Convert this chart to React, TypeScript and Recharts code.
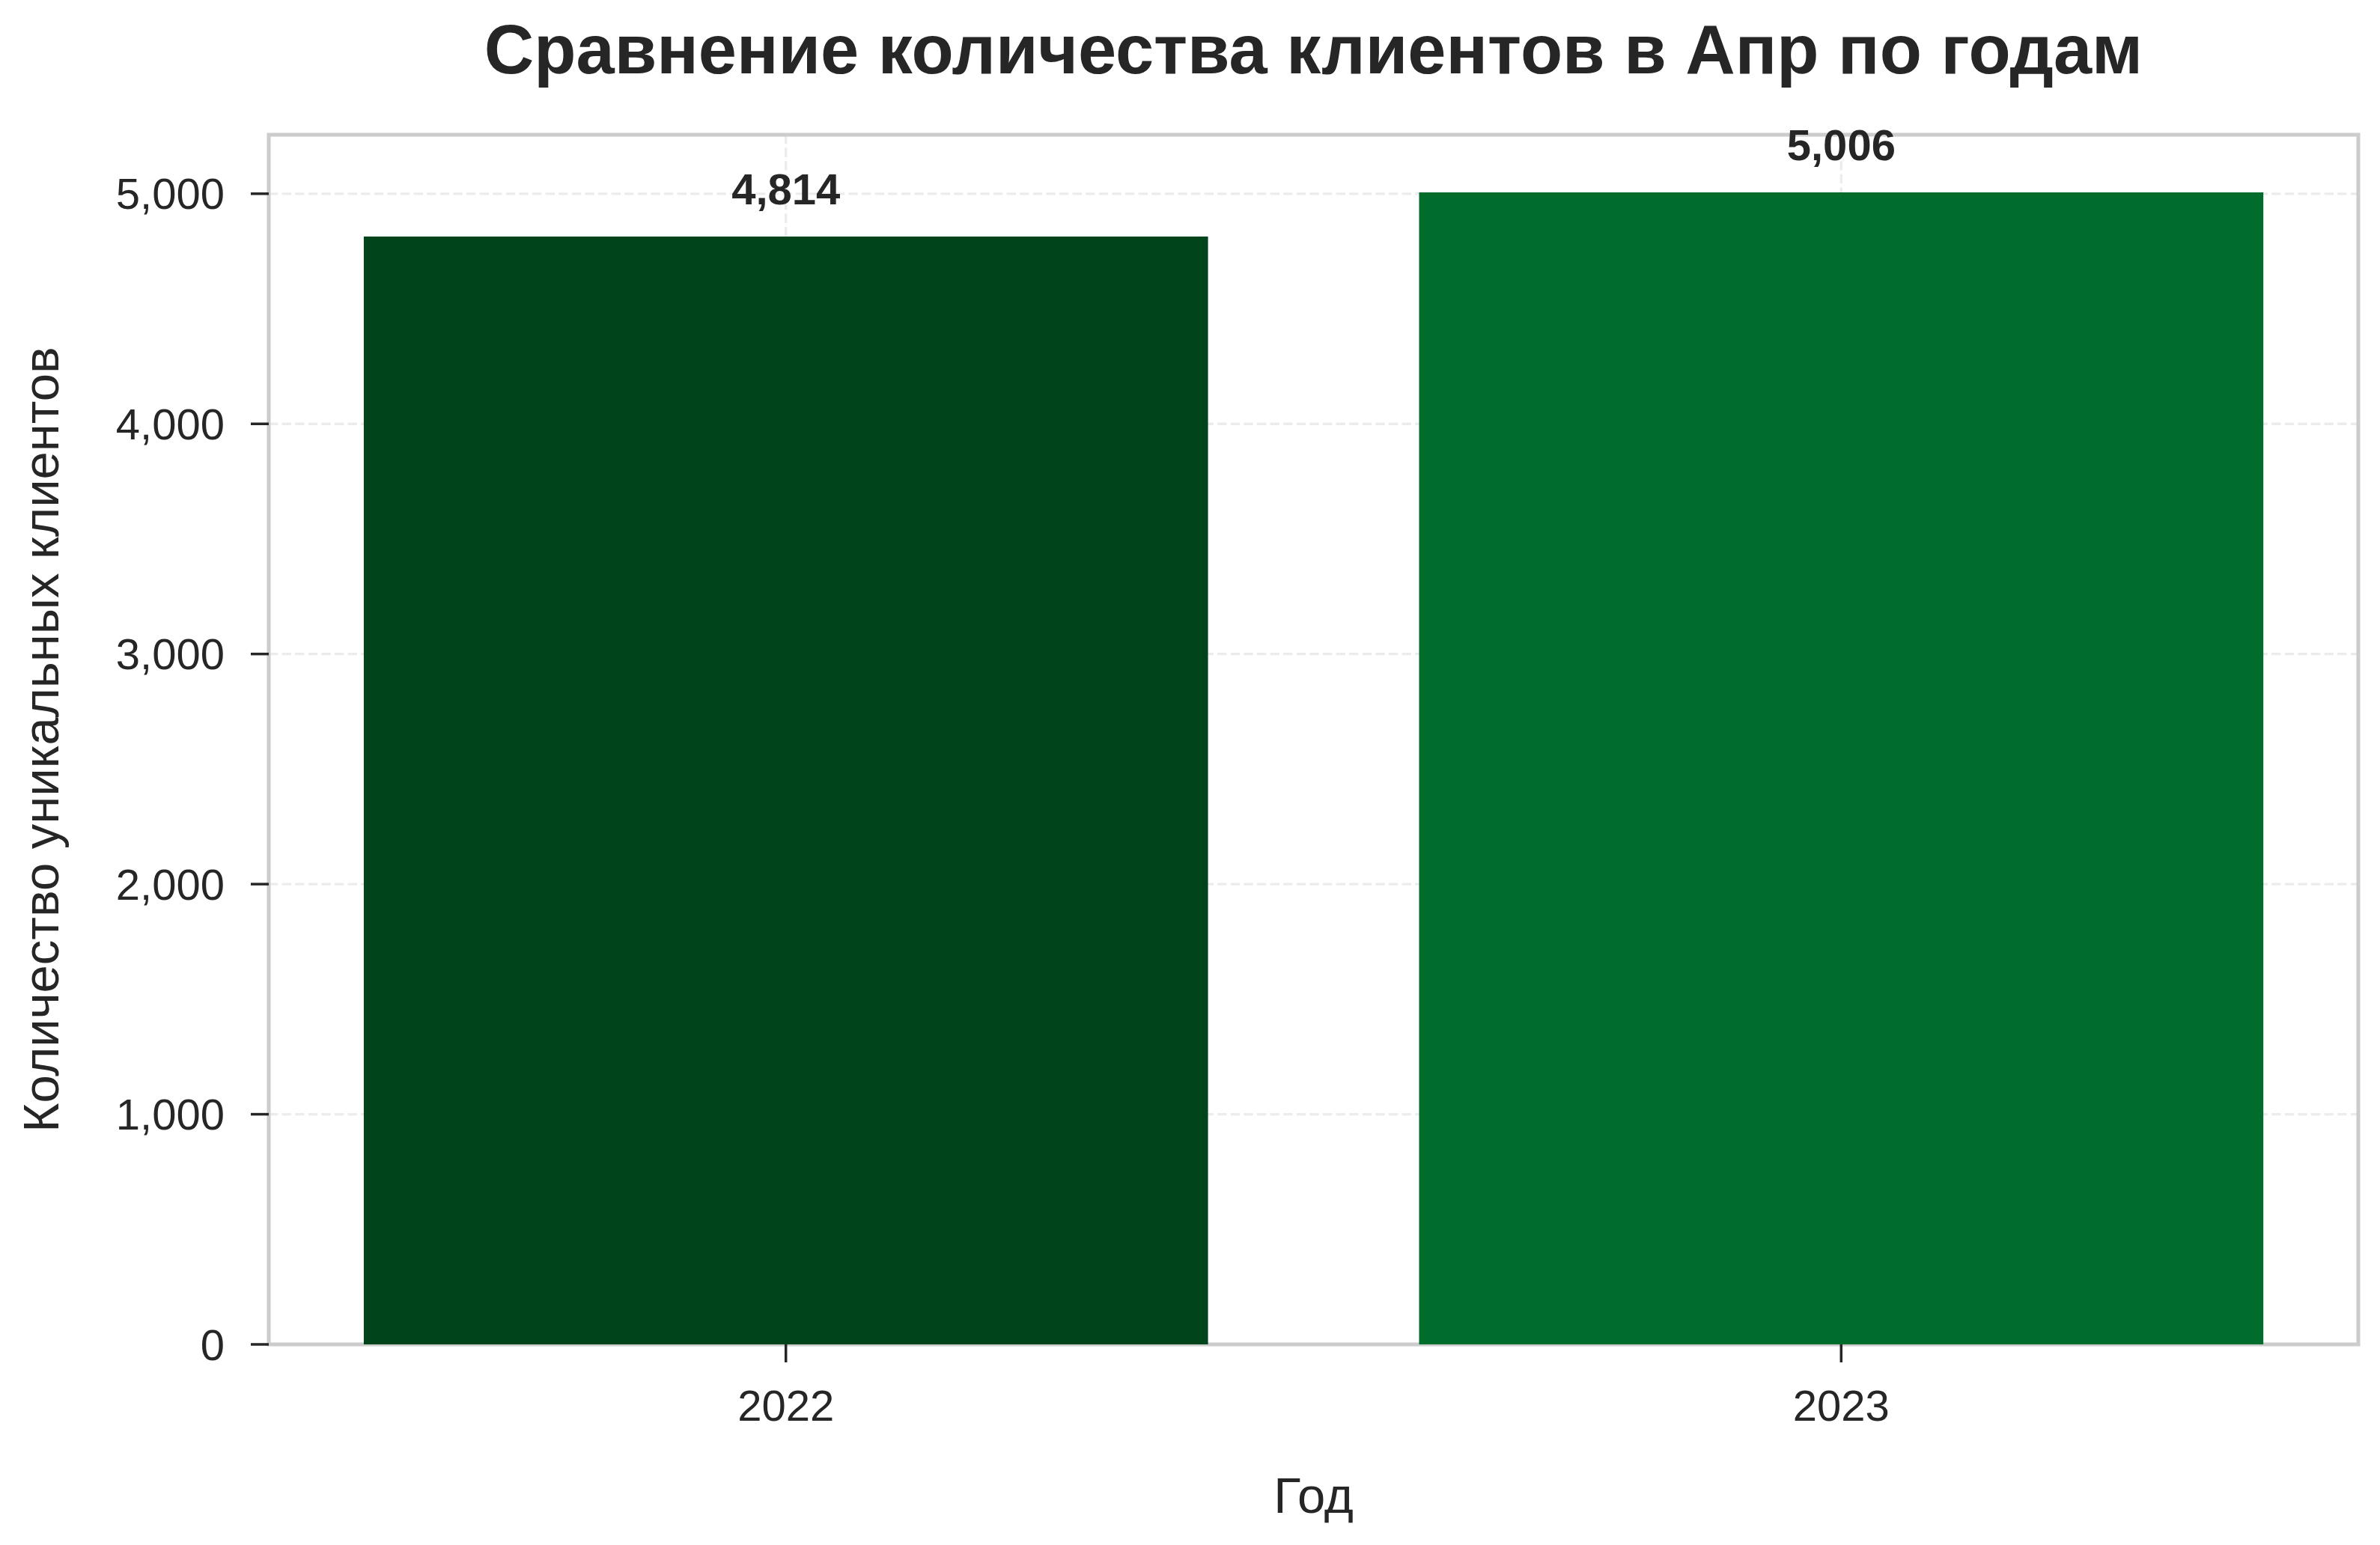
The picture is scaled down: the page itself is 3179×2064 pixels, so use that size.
import React from 'react';
import {
  BarChart,
  Bar,
  Cell,
  XAxis,
  YAxis,
  CartesianGrid,
  LabelList,
  Label,
  ReferenceArea,
} from 'recharts';

// values
const years = ['2022', '2023'];
const customers = [4814, 5006];
const barColors = ['#00441b', '#006d2c'];
const yTicks = [0, 1000, 2000, 3000, 4000, 5000];

const TITLE = 'Сравнение количества клиентов в Апр по годам';
const X_LABEL = 'Год';
const Y_LABEL = 'Количество уникальных клиентов';

const W = 3179;
const H = 2064;
const FONT = '"Liberation Sans", Arial, sans-serif';
const TEXT = '#262626';

// matplotlib style auto margins (5%)
const X_DOMAIN: [number, number] = [-0.49, 1.49];
const Y_MAX = Math.max(...customers) * 1.05;

const margin = { top: 180, right: 29, bottom: 0, left: 0 };
const Y_AXIS_W = 359;
const X_AXIS_H = 268;
const plotW = W - margin.left - margin.right - Y_AXIS_W;
const barSize = (0.8 * plotW) / (X_DOMAIN[1] - X_DOMAIN[0]);

const data = years.map((year, i) => ({ idx: i, year, customers: customers[i] }));

const fmt = (v: number) => Number(v).toLocaleString('en-US');

const App: React.FC = () => {
  return (
    <div style={{ position: 'absolute', left: 0, top: 0, width: W, height: H, background: '#fff' }}>
      <svg width={W} height={130} style={{ position: 'absolute', left: 0, top: 0 }}>
        <text
          x={Y_AXIS_W + plotW / 2}
          y={98}
          textAnchor="middle"
          fontFamily={FONT}
          fontWeight="bold"
          fontSize={92}
          fill={TEXT}
        >
          {TITLE}
        </text>
      </svg>
      <BarChart width={W} height={H} data={data} margin={margin}>
        <CartesianGrid stroke="#ececec" strokeWidth={3.3} strokeDasharray="12.3 5.3" />
        <XAxis
          dataKey="idx"
          type="number"
          domain={X_DOMAIN}
          ticks={[0, 1]}
          tickFormatter={(i: number) => years[i]}
          height={X_AXIS_H}
          axisLine={false}
          tickSize={24}
          tickMargin={37}
          tickLine={{ stroke: TEXT, strokeWidth: 3.5 }}
          tick={{ fill: TEXT, fontSize: 58, fontFamily: FONT }}
        >
          <Label
            content={({ viewBox }: any) => (
              <text
                x={viewBox.x + viewBox.width / 2}
                y={viewBox.y + 225}
                textAnchor="middle"
                fontFamily={FONT}
                fontSize={67}
                fill={TEXT}
              >
                {X_LABEL}
              </text>
            )}
          />
        </XAxis>
        <YAxis
          type="number"
          domain={[0, Y_MAX]}
          ticks={yTicks}
          width={Y_AXIS_W}
          axisLine={false}
          tickSize={24}
          tickMargin={35}
          tickFormatter={fmt}
          tickLine={{ stroke: TEXT, strokeWidth: 3.5 }}
          tick={{ fill: TEXT, fontSize: 58, fontFamily: FONT }}
        >
          <Label
            content={({ viewBox }: any) => {
              const cy = viewBox.y + viewBox.height / 2;
              return (
                <text
                  x={78}
                  y={cy}
                  transform={`rotate(-90 78 ${cy})`}
                  textAnchor="middle"
                  fontFamily={FONT}
                  fontSize={67}
                  fill={TEXT}
                >
                  {Y_LABEL}
                </text>
              );
            }}
          />
        </YAxis>
        <Bar dataKey="customers" barSize={barSize} isAnimationActive={false}>
          {data.map((d, i) => (
            <Cell key={d.year} fill={barColors[i]} />
          ))}
          <LabelList
            dataKey="customers"
            position="top"
            offset={43}
            formatter={fmt}
            fill={TEXT}
            fontSize={58}
            fontWeight="bold"
            fontFamily={FONT}
          />
        </Bar>
        <ReferenceArea
          x1={X_DOMAIN[0]}
          x2={X_DOMAIN[1]}
          y1={0}
          y2={Y_MAX}
          fill="none"
          stroke="#cccccc"
          strokeWidth={5}
          ifOverflow="visible"
        />
      </BarChart>
    </div>
  );
};

export default App;
